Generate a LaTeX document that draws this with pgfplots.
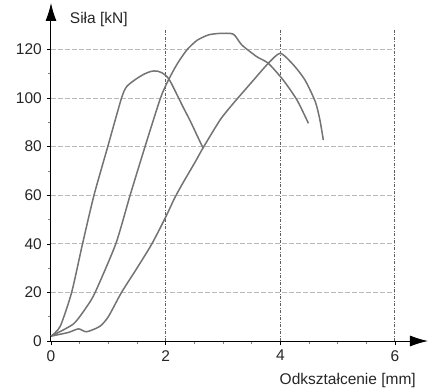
\documentclass[border=0pt]{standalone}
\usepackage{pgfplots}
\pgfplotsset{compat=1.18}
\usepackage{fontspec}
\setmainfont{Liberation Sans}
\usetikzlibrary{arrows.meta}
\definecolor{curve}{RGB}{115,115,115}
\definecolor{hgrid}{RGB}{185,185,185}
\definecolor{vgrid}{RGB}{95,95,95}
\begin{document}
\fontsize{15}{18}\selectfont
\begin{tikzpicture}
\path[use as bounding box] (-51pt,-50pt) rectangle (385pt,341pt);
\begin{axis}[
  scale only axis,
  width=344pt, height=311pt,
  xmin=0, xmax=6, ymin=0, ymax=128,
  axis lines=left,
  x axis line style={-{Latex[length=18pt,width=11pt]}, shorten >=-33pt, line width=1pt},
  y axis line style={-{Latex[length=18pt,width=11pt]}, shorten >=-27pt, line width=1pt},
  xtick={0,2,4,6}, ytick={0,20,...,120},
  minor x tick num=3, minor y tick num=1,
  tick align=outside,
  major tick length=4pt, minor tick length=2.5pt,
  tick style={black, line width=0.6pt},
  minor tick style={gray, line width=0.6pt},
  xmajorgrids, ymajorgrids,
  x grid style={vgrid, line width=1pt, dash pattern=on 3pt off 1.5pt on 1pt off 1.5pt},
  y grid style={hgrid, line width=1pt, dash pattern=on 5pt off 2pt},
  tick label style={font=\fontsize{15.5}{18}\selectfont, text=black!85},
  /pgf/number format/assume math mode=true,
  xlabel={Odkształcenie [mm]}, ylabel={Siła [kN]},
  every axis x label/.style={at={(axis description cs:1.0756,-0.1254)}, anchor=east, font=\fontsize{15.5}{18}\selectfont, text=black!85},
  every axis y label/.style={at={(axis description cs:0.04,1.035)}, anchor=west, font=\fontsize{15.5}{18}\selectfont, text=black!85},
  clip=false,
]
% steep curve
\addplot[curve, line width=1.5pt, smooth, tension=0.4] coordinates {
 (0,2) (0.16,6) (0.36,20) (0.55,40) (0.75,60) (0.99,80)
 (1.23,100) (1.32,104.7) (1.47,107.6) (1.62,109.8) (1.75,111) (1.85,111.1)
 (1.95,110.2) (2.03,108.6) (2.1,106) (2.31,96) (2.43,90.5) (2.63,80.5) (2.66,79.5)
};
% middle curve
\addplot[curve, line width=1.5pt, smooth, tension=0.4] coordinates {
 (0,2) (0.39,7) (0.62,14) (0.77,20) (1.13,40) (1.38,60)
 (1.64,80) (1.91,100) (2.05,107.5) (2.2,114) (2.37,119.8) (2.55,123.8)
 (2.75,126) (2.95,126.6) (3.18,126.3) (3.33,121.8) (3.59,117) (3.79,114.3) (4.05,107.4)
 (4.29,99.2) (4.49,89.6)
};
% shallow curve
\addplot[curve, line width=1.5pt, smooth, tension=0.4] coordinates {
 (0,2) (0.3,3.5) (0.48,5.0) (0.62,3.8) (0.85,6) (1.0,10) (1.23,20) (1.5,30)
 (1.76,40) (2.0,51) (2.16,59) (2.3,65) (2.51,73.5) (2.66,79.8) (2.95,91)
 (3.18,97.8) (3.5,106.5) (3.79,114.3) (4.0,118.4) (4.23,113.6) (4.43,107.4)
 (4.61,98.5) (4.69,91) (4.75,82.7)
};
\end{axis}
\end{tikzpicture}
\end{document}
